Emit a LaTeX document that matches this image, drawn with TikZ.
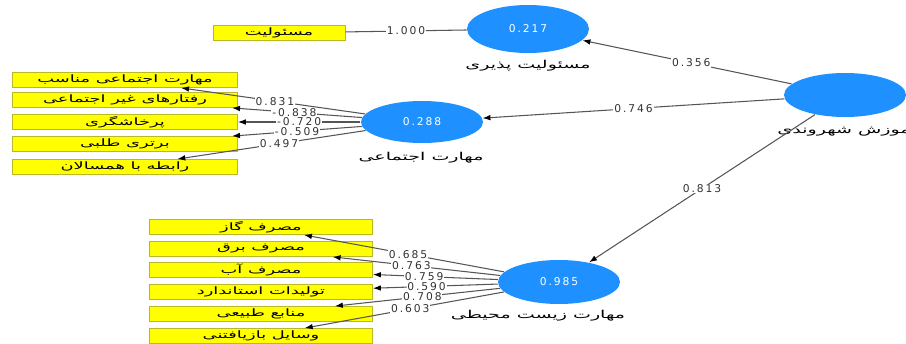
\documentclass[tikz,border=0pt]{standalone}
\usepackage{fontspec}
\usepackage{xcolor}
\usetikzlibrary{arrows.meta,shapes.geometric}
\setmainfont[LetterSpace=18]{DejaVu Sans}
\newfontfamily\fa[Script=Arabic,FakeStretch=1.75]{DejaVu Sans}
\TeXXeTstate=1
\definecolor{LVblue}{RGB}{30,144,255}
\definecolor{MVyellow}{RGB}{255,255,0}
\definecolor{MVborder}{RGB}{185,185,40}
\definecolor{PathGray}{RGB}{85,85,85}

\begin{document}
\begin{tikzpicture}[x=0.02cm, y=-0.02cm, line width=0.6pt, color=PathGray,
      every node/.append style={font=\fontsize{6.1}{7}\selectfont},
      latent/.style={ellipse, fill=LVblue, draw=none, text=white, inner sep=0pt,
        minimum width=2.44cm, minimum height=0.88cm},
      lvname/.style={text=black, font=\fontsize{6.2}{7}\selectfont},
      item/.style={rectangle, fill=MVyellow, draw=MVborder, line width=0.5pt, text=black,
        inner sep=0pt, minimum width=4.5cm, minimum height=0.3cm, font=\fontsize{5.8}{6}\selectfont},
      weight/.style={fill=white, inner sep=0.5pt, text=black!80},
      load/.style={-{Latex[length=4.5pt,width=3.2pt,color=black]}}]
  \useasboundingbox (0,0) rectangle (906,344);
  % latent variables
  \node (Train) [latent] at (845,95) {};
  \node (Resp) [latent, minimum height=0.96cm] at (528,29) {0.217};
  \node (Social) [latent, minimum height=0.84cm] at (422,122) {0.288};
  \node (Env) [latent] at (559,282) {0.985};
  \node (TrainName) [lvname, anchor=west] at (771,130) {\fa\beginR آموزش شهروندی\endR};
  \node (RespName) [lvname] at (528,66) {\fa\beginR مسئولیت پذیری\endR};
  \node (SocialName) [lvname] at (421,158) {\fa\beginR مهارت اجتماعی\endR};
  \node (EnvName) [lvname] at (538,316) {\fa\beginR مهارت زیست محیطی\endR};
  % indicators
  \node (resp1) [item, minimum width=2.64cm] at (279,33) {\fa\beginR مسئولیت\endR};
  \node (soc1) [item] at (125,80) {\fa\beginR مهارت اجتماعی مناسب\endR};
  \node (soc2) [item] at (125,100) {\fa\beginR رفتارهای غیر اجتماعی\endR};
  \node (soc3) [item] at (125,122) {\fa\beginR پرخاشگری\endR};
  \node (soc4) [item] at (125,144) {\fa\beginR برتری طلبی\endR};
  \node (soc5) [item] at (125,167) {\fa\beginR رابطه با همسالان\endR};
  \node (env1) [item, minimum width=4.46cm] at (261,227) {\fa\beginR مصرف گاز\endR};
  \node (env2) [item, minimum width=4.46cm] at (261,249) {\fa\beginR مصرف برق\endR};
  \node (env3) [item, minimum width=4.46cm] at (261,270) {\fa\beginR مصرف آب\endR};
  \node (env4) [item, minimum width=4.46cm] at (261,292) {\fa\beginR تولیدات استاندارد\endR};
  \node (env5) [item, minimum width=4.46cm] at (261,314) {\fa\beginR منابع طبیعی\endR};
  \node (env6) [item, minimum width=4.46cm] at (261,336) {\fa\beginR وسایل بازیافتنی\endR};
  % structural paths
  \draw[load] (Train) to node [weight, pos=0.48] {0.356} (Resp);
  \draw[load] (Train) to node [weight, pos=0.5] {0.746} (Social);
  \draw[load] (Train) to node [weight, pos=0.5] {0.813} (Env);
  % outer loadings
  \draw (Resp) to node [weight, pos=0.5] {1.000} (resp1);
  \draw[load] (Social) to node [weight, pos=0.49] {0.831} (soc1);
  \draw[load] (Social) to node [weight, pos=0.52] {-0.838} (soc2);
  \draw[load] (Social) to node [weight, pos=0.5] {-0.720} (soc3);
  \draw[load] (Social) to node [weight, pos=0.5] {-0.509} (soc4);
  \draw[load] (Social) to node [weight, pos=0.46] {0.497} (soc5);
  \draw[load] (Env) to node [weight, pos=0.48] {0.685} (env1);
  \draw[load] (Env) to node [weight, pos=0.53] {0.763} (env2);
  \draw[load] (Env) to node [weight, pos=0.59] {0.759} (env3);
  \draw[load] (Env) to node [weight, pos=0.57] {0.590} (env4);
  \draw[load] (Env) to node [weight, pos=0.47] {0.708} (env5);
  \draw[load] (Env) to node [weight, pos=0.47] {0.603} (env6);
\end{tikzpicture}
\end{document}
